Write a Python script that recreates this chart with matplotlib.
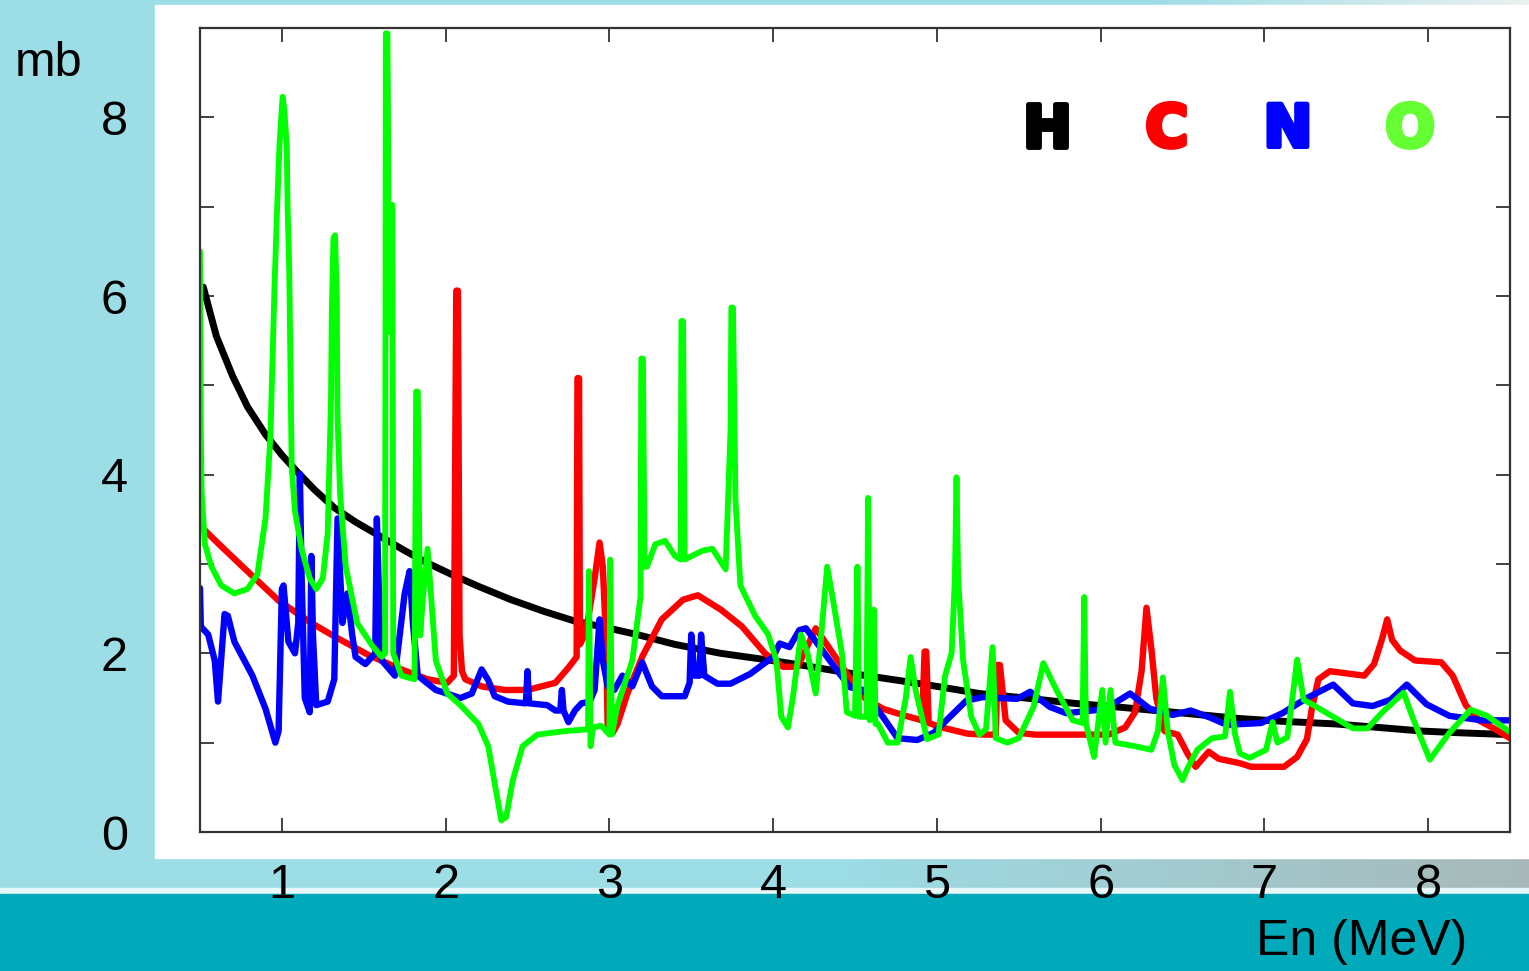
import matplotlib
matplotlib.use("Agg")
import matplotlib.pyplot as plt
import matplotlib.patheffects as pe
from matplotlib.patches import Rectangle
import numpy as np

plt.rcParams['font.family'] = ['Liberation Sans', 'DejaVu Sans']

# H (black)
h_E = [0.52, 0.6, 0.7, 0.79, 0.9, 1.0, 1.1, 1.2, 1.32, 1.45, 1.61, 1.75, 1.89, 2.04, 2.2, 2.4,
       2.6, 2.79, 3.0, 3.17, 3.4, 3.68, 3.99, 4.2, 4.46, 4.79, 5.0, 5.26, 5.54, 5.84, 6.1,
       6.45, 6.85, 7.1, 7.43, 7.7, 7.96, 8.2, 8.5]
h_sig = [6.10, 5.55, 5.10, 4.76, 4.45, 4.22, 4.02, 3.83, 3.63, 3.47, 3.30, 3.15, 3.01, 2.88, 2.75, 2.60,
         2.47, 2.36, 2.28, 2.21, 2.10, 2.00, 1.92, 1.86, 1.78, 1.69, 1.63, 1.55, 1.50, 1.44, 1.40,
         1.34, 1.27, 1.24, 1.21, 1.17, 1.13, 1.11, 1.09]

# C (red)
c_E = [0.5, 0.6, 0.76, 0.98, 1.18, 1.32, 1.53, 1.73, 1.89, 2.01, 2.05, 2.065, 2.075, 2.085, 2.1, 2.12,
       2.22, 2.36, 2.5, 2.67, 2.75, 2.80, 2.805, 2.815, 2.82, 2.84, 2.87, 2.91, 2.94, 2.96, 2.98,
       2.99, 3.02, 3.05, 3.11, 3.2, 3.32, 3.45, 3.54, 3.68, 3.81, 3.95, 4.06, 4.15, 4.26, 4.35,
       4.47, 4.56, 4.67, 4.79, 4.91, 4.925, 4.935, 4.95, 5.03, 5.19, 5.3, 5.36, 5.37, 5.385, 5.42,
       5.5, 5.6, 5.84, 6.05, 6.15, 6.21, 6.25, 6.28, 6.31, 6.34, 6.39, 6.47, 6.53, 6.58, 6.66,
       6.72, 6.85, 6.92, 7.12, 7.2, 7.26, 7.29, 7.33, 7.4, 7.61, 7.67, 7.72, 7.75, 7.78, 7.83,
       7.92, 8.08, 8.15, 8.23, 8.31, 8.41, 8.5]
c_sig = [3.43, 3.25, 2.97, 2.59, 2.34, 2.19, 1.98, 1.82, 1.71, 1.67, 1.75, 6.06, 6.06, 2.2, 1.8, 1.71,
         1.63, 1.59, 1.59, 1.67, 1.84, 1.96, 5.08, 5.08, 2.1, 2.17, 2.38, 2.84, 3.24, 2.97, 2.13,
         1.13, 1.11, 1.21, 1.55, 1.96, 2.38, 2.60, 2.65, 2.49, 2.30, 2.0, 1.85, 1.85, 2.28, 2.04,
         1.72, 1.50, 1.38, 1.31, 1.25, 2.02, 2.02, 1.22, 1.17, 1.10, 1.09, 1.09, 1.87, 1.87, 1.25,
         1.11, 1.09, 1.09, 1.09, 1.17, 1.34, 1.80, 2.51, 2.05, 1.50, 1.13, 1.09, 0.88, 0.73, 0.90,
         0.82, 0.77, 0.73, 0.73, 0.84, 1.04, 1.38, 1.71, 1.80, 1.75, 1.88, 2.17, 2.38, 2.15, 2.03,
         1.92, 1.90, 1.75, 1.42, 1.25, 1.15, 1.05]

# N (blue)
n_E = [0.5, 0.505, 0.55, 0.59, 0.61, 0.63, 0.65, 0.67, 0.71, 0.82, 0.9, 0.96, 0.98, 1.0, 1.01, 1.04,
       1.08, 1.10, 1.11, 1.12, 1.14, 1.17, 1.18, 1.19, 1.21, 1.28, 1.32, 1.34, 1.37, 1.40, 1.43,
       1.45, 1.51, 1.57, 1.58, 1.60, 1.61, 1.69, 1.75, 1.78, 1.80, 1.83, 1.94, 2.09, 2.16, 2.22,
       2.26, 2.3, 2.38, 2.49, 2.50, 2.51, 2.62, 2.67, 2.70, 2.71, 2.72, 2.75, 2.79, 2.83, 2.88,
       2.91, 2.94, 2.96, 2.99, 3.03, 3.08, 3.14, 3.2, 3.26, 3.32, 3.46, 3.49, 3.50, 3.52, 3.55,
       3.56, 3.58, 3.66, 3.74, 3.86, 4.0, 4.04, 4.1, 4.16, 4.2, 4.27, 4.39, 4.47, 4.55, 4.67,
       4.76, 4.88, 4.98, 5.08, 5.18, 5.28, 5.49, 5.57, 5.69, 5.79, 6.0, 6.1, 6.18, 6.3, 6.44,
       6.55, 6.67, 6.77, 6.98, 7.11, 7.26, 7.42, 7.54, 7.66, 7.77, 7.87, 7.99, 8.13, 8.33, 8.5]
n_sig = [2.73, 2.30, 2.21, 1.92, 1.46, 1.95, 2.44, 2.42, 2.13, 1.75, 1.38, 1.0, 1.13, 2.72, 2.76, 2.13,
         2.0, 2.34, 4.01, 2.9, 1.5, 1.34, 3.09, 2.2, 1.42, 1.46, 1.71, 3.51, 2.34, 2.67, 2.2,
         1.96, 1.88, 2.0, 3.51, 2.2, 1.92, 1.75, 2.67, 2.92, 2.34, 1.75, 1.59, 1.50, 1.55, 1.82,
         1.7, 1.52, 1.46, 1.44, 1.80, 1.44, 1.42, 1.36, 1.36, 1.59, 1.36, 1.23, 1.36, 1.44, 1.46,
         1.59, 2.38, 1.92, 1.63, 1.59, 1.75, 1.63, 1.90, 1.63, 1.52, 1.52, 1.67, 2.21, 1.75, 1.75,
         2.21, 1.75, 1.66, 1.66, 1.77, 1.96, 2.11, 2.07, 2.26, 2.28, 2.11, 1.81, 1.62, 1.59, 1.29,
         1.05, 1.03, 1.11, 1.29, 1.47, 1.51, 1.49, 1.57, 1.40, 1.33, 1.37, 1.46, 1.55, 1.38, 1.31,
         1.36, 1.28, 1.20, 1.22, 1.33, 1.50, 1.65, 1.44, 1.41, 1.48, 1.65, 1.43, 1.30, 1.25, 1.25]

# O (green)
o_E = [0.50, 0.505, 0.51, 0.53, 0.57, 0.63, 0.71, 0.79, 0.85, 0.90, 0.93, 0.955, 0.97, 0.985, 1.0,
       1.005, 1.015, 1.03, 1.035, 1.045, 1.06, 1.08, 1.12, 1.17, 1.21, 1.25, 1.28, 1.30, 1.305,
       1.315, 1.325, 1.335, 1.34, 1.355, 1.39, 1.46, 1.55, 1.61, 1.63, 1.635, 1.645, 1.655, 1.665,
       1.675, 1.68, 1.73, 1.81, 1.82, 1.83, 1.845, 1.86, 1.89, 1.94, 2.01, 2.09, 2.2, 2.26, 2.3,
       2.34, 2.37, 2.41, 2.47, 2.56, 2.73, 2.87, 2.875, 2.885, 2.9, 2.95, 3.0, 3.005, 3.015, 3.05,
       3.14, 3.19, 3.195, 3.205, 3.215, 3.23, 3.28, 3.34, 3.4, 3.435, 3.44, 3.45, 3.46, 3.57, 3.63,
       3.71, 3.74, 3.745, 3.755, 3.77, 3.80, 3.89, 3.97, 4.02, 4.05, 4.09, 4.12, 4.17, 4.21, 4.26,
       4.29, 4.33, 4.37, 4.42, 4.45, 4.50, 4.515, 4.525, 4.57, 4.58, 4.59, 4.615, 4.625, 4.64,
       4.7, 4.76, 4.81, 4.84, 4.87, 4.94, 5.01, 5.05, 5.09, 5.11, 5.12, 5.13, 5.16, 5.21, 5.26,
       5.30, 5.34, 5.36, 5.43, 5.5, 5.59, 5.65, 5.73, 5.83, 5.89, 5.90, 5.91, 5.96, 6.01, 6.03,
       6.06, 6.09, 6.21, 6.31, 6.35, 6.38, 6.41, 6.45, 6.50, 6.53, 6.59, 6.68, 6.76, 6.79, 6.82,
       6.85, 6.91, 7.01, 7.05, 7.08, 7.14, 7.17, 7.2, 7.24, 7.3, 7.42, 7.54, 7.63, 7.72, 7.85,
       7.91, 8.01, 8.13, 8.26, 8.36, 8.5]
o_sig = [6.5, 4.5, 3.8, 3.22, 2.97, 2.76, 2.67, 2.72, 2.88, 3.51, 4.43, 6.1, 6.93, 7.67, 8.12,
         8.23, 8.08, 7.67, 7.0, 6.29, 4.09, 3.59, 3.17, 2.84, 2.72, 2.84, 3.34, 4.85, 5.84,
         6.65, 6.68, 5.99, 4.64, 3.80, 2.97, 2.34, 2.09, 1.96, 2.0, 8.94, 8.94, 5.6, 7.02,
         7.02, 2.0, 1.75, 1.71, 4.93, 4.93, 2.2, 2.6, 3.17, 1.92, 1.55, 1.42, 1.21, 0.96, 0.54,
         0.13, 0.17, 0.58, 0.96, 1.09, 1.13, 1.15, 2.92, 0.96, 1.17, 1.19, 1.09, 3.05, 1.09, 1.42,
         1.92, 2.63, 5.30, 5.30, 2.97, 2.97, 3.22, 3.26, 3.09, 3.05, 5.72, 5.72, 3.05, 3.15, 3.17,
         2.94, 4.51, 5.87, 5.87, 3.72, 2.76, 2.42, 2.21, 1.92, 1.29, 1.17, 1.50, 2.21, 2.0, 1.55,
         2.13, 2.97, 2.55, 2.0, 1.34, 1.30, 2.97, 1.29, 1.29, 3.74, 1.25, 2.49, 1.21, 1.21,
         1.0, 1.0, 1.50, 1.96, 1.59, 1.04, 1.09, 1.75, 2.0, 2.84, 3.97, 2.84, 1.92, 1.29, 1.09,
         1.15, 2.07, 1.05, 1.0, 1.05, 1.40, 1.89, 1.59, 1.25, 1.22, 2.63, 1.22, 0.84, 1.59, 1.0,
         1.59, 1.0, 0.96, 0.92, 1.13, 1.73, 1.13, 0.75, 0.58, 0.71, 0.92, 1.05, 1.07, 1.57, 1.1,
         0.88, 0.83, 0.92, 1.23, 1.0, 1.06, 1.48, 1.93, 1.48, 1.42, 1.29, 1.16, 1.16, 1.34, 1.56,
         1.26, 0.81, 1.11, 1.37, 1.30, 1.12]

labels = ["H", "C", "N", "O"]
label_colors = ["black", "#ff0000", "#0000ff", "#66ff33"]

W, H = 1529, 971
fig = plt.figure(figsize=(W / 100, H / 100), dpi=100)
fig.patch.set_facecolor("#9cdde6")

# slide background decorations
bg = fig.add_axes([0, 0, 1, 1], zorder=0)
bg.axis("off")
grad = np.linspace(0, 1, 300)
c0 = np.array([156, 221, 230]) / 255
c1 = np.array([168, 184, 184]) / 255
t = np.clip((grad - 0.55) / 0.45, 0, 1)[:, None]
strip = (c0 * (1 - t) + c1 * t)[None, :, :]
bg.imshow(strip, extent=[0, W, 888, 858], aspect="auto", zorder=1)
c2 = np.array([235, 240, 240]) / 255
t2 = np.clip((grad - 0.75) / 0.25, 0, 1)[:, None]
strip2 = (c0 * (1 - t2) + c2 * t2)[None, :, :]
bg.imshow(strip2, extent=[0, W, 5, 0], aspect="auto", zorder=1)
bg.add_patch(Rectangle((0, 888), W, 7, color="#e8f7f9", zorder=2))
bg.add_patch(Rectangle((0, 894), W, 80, color="#00aabb", zorder=2))
bg.add_patch(Rectangle((155, 5), W - 155, 853, color="white", zorder=2))
bg.set_xlim(0, W)
bg.set_ylim(H, 0)

ax = fig.add_axes([200 / W, 1 - 832 / H, 1310 / W, 804 / H], zorder=1)
ax.patch.set_visible(False)

lw = 4.6
style = dict(solid_joinstyle="round", solid_capstyle="round")
ax.plot(h_E, h_sig, color="black", lw=lw + 0.4, **style)
ax.plot(c_E, c_sig, color="#ff0000", lw=lw, **style)
ax.plot(n_E, n_sig, color="#0000ff", lw=lw, **style)
ax.plot(o_E, o_sig, color="#00ff00", lw=lw - 0.4, **style)

ax.set_xlim(0.5, 8.5)
ax.set_ylim(0, 9)
ax.set_xticks(range(1, 9))
ax.set_yticks(range(0, 10))
ax.set_yticklabels([str(v) if v % 2 == 0 and v < 9 else "" for v in range(0, 10)])
ax.tick_params(direction="in", length=10, width=1.3, color="#333333",
               top=True, right=True, labelsize=35)
ax.tick_params(axis="x", pad=22)
ax.tick_params(axis="y", pad=52)
for s in ax.spines.values():
    s.set_color("#333333")
    s.set_linewidth(1.6)

xpos = [0.6466, 0.738, 0.8305, 0.9237]
for lab, col, xp in zip(labels, label_colors, xpos):
    ax.text(xp, 0.873, lab, color=col, transform=ax.transAxes, ha="center", va="center",
            fontsize=42, fontweight="heavy", family="DejaVu Sans",
            path_effects=[pe.withStroke(linewidth=3.5, foreground=col)])

fig.text(15 / W, 1 - 63 / H, "mb", fontsize=35, ha="left", va="center")
fig.text(1362 / W, 1 - 942 / H, "En (MeV)", fontsize=36, ha="center", va="center")

fig.savefig("out.png", dpi=100)
